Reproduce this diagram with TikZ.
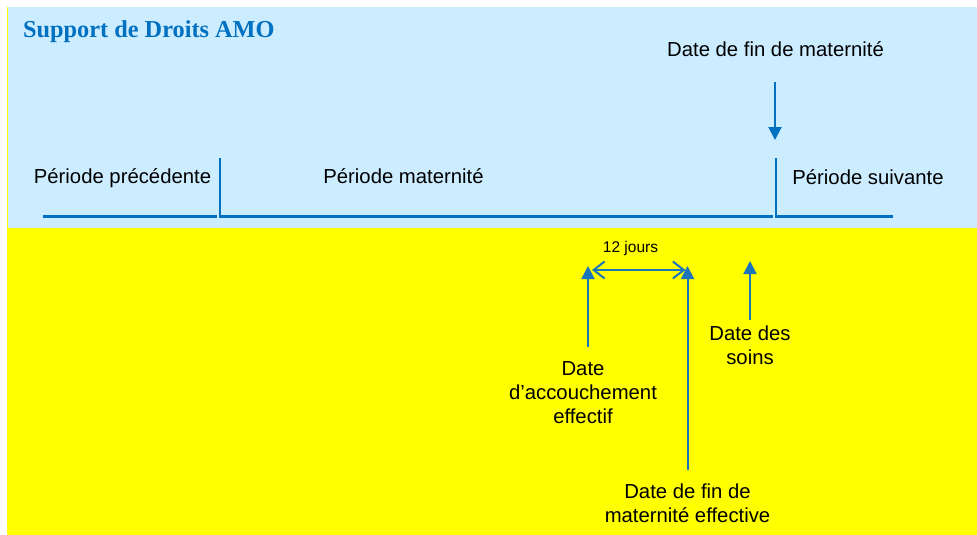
\documentclass[tikz,border=0pt]{standalone}
\usepackage{fontspec}
\setmainfont{Liberation Sans}
\newfontfamily\titlefont{Liberation Serif}
\usetikzlibrary{arrows.meta}
\definecolor{skyband}{HTML}{CCECFF}
\definecolor{yelband}{HTML}{FFFF00}
\definecolor{lineblue}{HTML}{0070C0}
\definecolor{arrblue}{HTML}{1C75BC}
\tikzset{
  lbl/.style={inner sep=0pt, font=\fontsize{20.3}{24}\selectfont, align=center, text=black},
  small/.style={inner sep=0pt, font=\fontsize{15.5}{18}\selectfont, text=black},
  tline/.style={draw=lineblue, line width=2.6pt},
  uparrow/.style={draw=arrblue, line width=2pt, -{Triangle[length=13pt,width=13pt]}},
  downarrow/.style={draw=lineblue, line width=2pt, -{Triangle[length=13pt,width=13pt]}},
  spanarrow/.style={draw=arrblue, line width=2pt, {Straight Barb[length=11pt,width=17pt]}-{Straight Barb[length=11pt,width=17pt]}}
}
\begin{document}
\begin{tikzpicture}[x=1pt,y=-1pt]
\useasboundingbox (0,0) rectangle (977,535);
\fill[white] (0,0) rectangle (977,535);
\fill[yelband] (7,7) rectangle (977,535);
\fill[skyband] (8,7) rectangle (977,228);

\node[anchor=base west, inner sep=0pt, text=lineblue, font=\titlefont\bfseries\fontsize{24.3}{28}\selectfont] (title) at (23,38) {Support de Droits AMO};

% timeline
\coordinate (p0) at (43,216.5);
\coordinate (p1) at (217,216.5);
\coordinate (m0t) at (220,158);
\coordinate (m0b) at (220,216.5);
\coordinate (m1) at (772.5,216.5);
\coordinate (s0t) at (776,158);
\coordinate (s0b) at (776,216.5);
\coordinate (s1) at (893,216.5);
\draw[tline] (p0) -- (p1);
\draw[tline] (m0t) -- (m0b) -- (m1);
\draw[tline] (s0t) -- (s0b) -- (s1);

\node[lbl, anchor=base] (prec) at (122.5,183.5) {Période précédente};
\node[lbl, anchor=base] (mat) at (403.5,183.5) {Période maternité};
\node[lbl, anchor=base] (suiv) at (868,184) {Période suivante};
\node[lbl, anchor=base] (finmat) at (775.5,57) {Date de fin de maternité};

\coordinate (dtop) at (775,82);
\coordinate (dtip) at (775,140);
\draw[downarrow] (dtop) -- (dtip);

% lower part
\node[small, anchor=base] (jours) at (630.5,252) {12 jours};
\coordinate (ja) at (592,270);
\coordinate (jb) at (685.5,270);
\draw[spanarrow] (ja) -- (jb);

\node[lbl, anchor=north] (acc) at (583,361.5) {Date\\d’accouchement\\effectif};
\node[lbl, anchor=north] (fineff) at (687.5,483.5) {Date de fin de\\maternité effective};
\node[lbl, anchor=north] (soins) at (750,325.5) {Date des\\soins};

\coordinate (accbase) at (588,347);
\coordinate (acctip) at (588,266);
\coordinate (finbase) at (687.5,470);
\coordinate (fintip) at (687.5,266);
\coordinate (soinbase) at (750,320);
\coordinate (sointip) at (750,261);
\draw[uparrow] (accbase) -- (acctip);
\draw[uparrow] (finbase) -- (fintip);
\draw[uparrow] (soinbase) -- (sointip);
\end{tikzpicture}
\end{document}
